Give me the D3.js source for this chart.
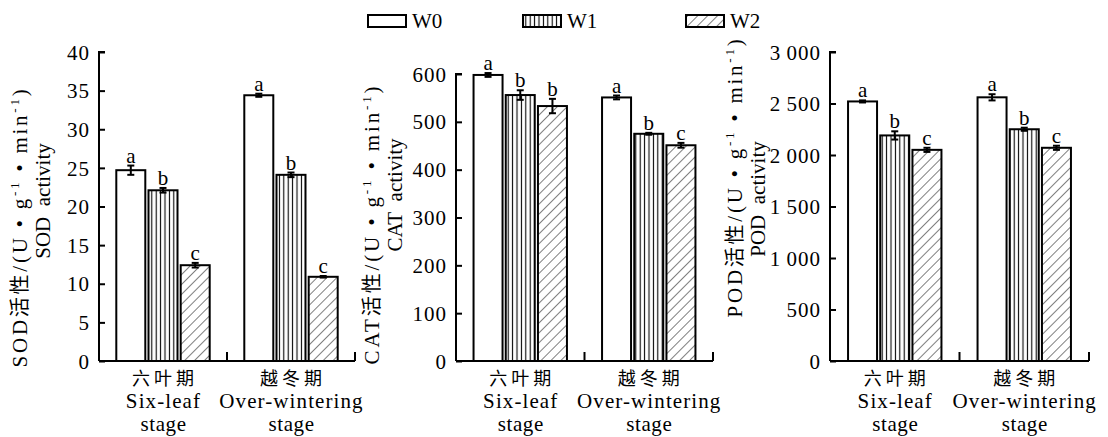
<!DOCTYPE html>
<html>
<head>
<meta charset="utf-8">
<script src="https://cdn.jsdelivr.net/npm/d3@7"></script>
<style>
  html, body { margin: 0; padding: 0; background: #fff; }
  svg { display: block; }
  svg text { font-family: "Liberation Serif", "DejaVu Serif", serif; fill: #000; }
</style>
</head>
<body>
<svg id="chart" width="1108" height="437"></svg>
<script>
// ---------- data ----------
const catCN = ["六叶期", "越冬期"];
const catEN1 = ["Six-leaf", "Over-wintering"];
const catEN2 = ["stage", "stage"];
const series = ["W0", "W1", "W2"];

const sodValues = [[24.7, 22.1, 12.4], [34.4, 24.1, 10.9]];
const sodErrors = [[0.6, 0.3, 0.3], [0.2, 0.3, 0.1]];
const sodLetters = [["a", "b", "c"], ["a", "b", "c"]];
const sodTicks = [0, 5, 10, 15, 20, 25, 30, 35, 40];

const catValues = [[598, 556, 533], [551, 475, 451]];
const catErrors = [[4, 10, 15], [4, 2, 5]];
const catLetters = [["a", "b", "b"], ["a", "b", "c"]];
const catTicks = [0, 100, 200, 300, 400, 500, 600];

const podValues = [[2520, 2190, 2050], [2560, 2250, 2070]];
const podErrors = [[10, 40, 20], [30, 15, 20]];
const podLetters = [["a", "b", "c"], ["a", "b", "c"]];
const podTicks = [0, 500, 1000, 1500, 2000, 2500, 3000];

// ---------- drawing ----------
const SERIF = "'Liberation Serif', 'DejaVu Serif', serif";
const CJK = "'Noto Sans CJK SC', sans-serif";
const svg = d3.select("#chart");
const defs = svg.append("defs");

// patterns
const pV = defs.append("pattern").attr("id", "pv").attr("patternUnits", "userSpaceOnUse")
  .attr("width", 4.4).attr("height", 10);
pV.append("rect").attr("width", 4.4).attr("height", 10).attr("fill", "#fff");
pV.append("line").attr("x1", 2.2).attr("x2", 2.2).attr("y1", 0).attr("y2", 10)
  .attr("stroke", "#000").attr("stroke-width", 1.1);

const pD = defs.append("pattern").attr("id", "pd").attr("patternUnits", "userSpaceOnUse")
  .attr("width", 7).attr("height", 7).attr("patternTransform", "rotate(45)");
pD.append("rect").attr("width", 7).attr("height", 7).attr("fill", "#fff");
pD.append("line").attr("x1", 0).attr("x2", 0).attr("y1", 0).attr("y2", 7)
  .attr("stroke", "#000").attr("stroke-width", 1);

const fills = d3.scaleOrdinal().domain(series).range(["#fff", "url(#pv)", "url(#pd)"]);

const y0 = 361;
const fmtSpace = d => d >= 1000 ? d3.format(",")(d).replace(",", "\u2009") : String(d);

const panels = [
  { vals: sodValues, errs: sodErrors, letters: sodLetters, ticks: sodTicks, max: 40,
    left: 99, right: 355, top: 52, name: "SOD", t1x: 20, t1y: 227, t2x: 43, t2y: 201, fmt: String },
  { vals: catValues, errs: catErrors, letters: catLetters, ticks: catTicks, max: 600,
    left: 456, right: 713, top: 74, name: "CAT", t1x: 372, t1y: 224, t2x: 395, t2y: 195, fmt: String },
  { vals: podValues, errs: podErrors, letters: podLetters, ticks: podTicks, max: 3000,
    left: 830, right: 1089, top: 52, name: "POD", t1x: 735, t1y: 177, t2x: 758, t2y: 199, fmt: fmtSpace }
];

const barW = 29, gap = 3.2;

panels.forEach(p => {
  const g = svg.append("g");
  const y = d3.scaleLinear().domain([0, p.max]).range([y0, p.top]);
  const x = d3.scaleBand().domain(catCN).range([p.left, p.right]).padding(0);
  const xs = d3.scaleBand().domain(series)
    .range([x.bandwidth() / 2 - (3 * barW + 2 * gap) / 2, x.bandwidth() / 2 + (3 * barW + 2 * gap) / 2])
    .paddingInner(gap / (barW + gap)).paddingOuter(0);

  // bars
  catCN.forEach((c, ci) => {
    series.forEach((s, si) => {
      const v = p.vals[ci][si], e = p.errs[ci][si];
      const bx = x(c) + xs(s);
      g.append("rect")
        .attr("x", bx).attr("y", y(v))
        .attr("width", xs.bandwidth()).attr("height", y0 - y(v))
        .attr("fill", fills(s)).attr("stroke", "#000").attr("stroke-width", 2);
      const cx = bx + xs.bandwidth() / 2;
      const eg = g.append("g").attr("stroke", "#000").attr("stroke-width", 2);
      eg.append("line").attr("x1", cx).attr("x2", cx).attr("y1", y(v - e)).attr("y2", y(v + e));
      eg.append("line").attr("x1", cx - 3.5).attr("x2", cx + 3.5).attr("y1", y(v + e)).attr("y2", y(v + e));
      eg.append("line").attr("x1", cx - 3.5).attr("x2", cx + 3.5).attr("y1", y(v - e)).attr("y2", y(v - e));
      g.append("text").attr("x", cx).attr("y", y(v + e) - 3).style("font-family", SERIF)
        .attr("text-anchor", "middle").attr("font-size", 21).text(p.letters[ci][si]);
    });
  });

  // y axis (ticks inward)
  const ya = d3.axisRight(y).tickValues(p.ticks).tickSize(6).tickFormat(p.fmt);
  const yg = g.append("g").attr("transform", `translate(${p.left},0)`).call(ya)
    .attr("font-family", null).attr("font-size", null);
  yg.select(".domain").attr("d", `M6,${p.top}H0V${y0}`).attr("stroke-width", 2);
  yg.selectAll(".tick line").attr("stroke-width", 2);
  yg.selectAll(".tick text").attr("x", -9).attr("text-anchor", "end")
    .attr("font-size", 21).style("font-family", SERIF).attr("dy", "0.34em").attr("letter-spacing", 1);

  // x axis: line with inward ticks at band boundaries
  const xa = d3.axisTop(x).tickSize(0).tickFormat("");
  const xg = g.append("g").attr("transform", `translate(0,${y0})`).call(xa);
  xg.select(".domain").attr("d", `M${p.left},0H${p.right}`).attr("stroke-width", 2);
  xg.selectAll(".tick").remove();
  [x(catCN[1]), p.right].forEach(t => {
    xg.append("line").attr("x1", t).attr("x2", t).attr("y1", 0).attr("y2", -9)
      .attr("stroke", "#000").attr("stroke-width", 2);
  });

  // category labels
  catCN.forEach((c, ci) => {
    const cx = x(c) + x.bandwidth() / 2;
    g.append("text").attr("x", cx + 2).attr("y", 385).style("font-family", CJK)
      .attr("text-anchor", "middle").attr("font-size", 18).attr("letter-spacing", 4).text(c);
    g.append("text").attr("x", cx + 0.5).attr("y", 408).attr("text-anchor", "middle").style("font-family", SERIF)
      .attr("font-size", 21).attr("letter-spacing", 1.1).text(catEN1[ci]);
    g.append("text").attr("x", cx + 0.5).attr("y", 431).attr("text-anchor", "middle").style("font-family", SERIF)
      .attr("font-size", 21).attr("letter-spacing", 0.6).text(catEN2[ci]);
  });

  // y titles
  const t1 = g.append("text").attr("transform", `translate(${p.t1x},${p.t1y}) rotate(-90)`)
    .attr("text-anchor", "middle").attr("dy", "0.35em").attr("font-size", 21).style("font-family", SERIF);
  t1.append("tspan").text(p.name);
  t1.append("tspan").style("font-family", CJK).attr("font-size", 20).text("活性");
  t1.append("tspan").text("/(U \u2022 g");
  t1.append("tspan").attr("font-size", 13).attr("dy", -8).text("-1");
  t1.append("tspan").attr("dy", 8).text(" \u2022 min");
  t1.append("tspan").attr("font-size", 13).attr("dy", -8).text("-1");
  t1.append("tspan").attr("dy", 8).text(")");
  // spread the first title line to the reference length
  const len = t1.node().getComputedTextLength();
  const nChars = t1.text().length;
  t1.attr("letter-spacing", Math.max(0, (281 - len) / nChars));

  g.append("text").attr("transform", `translate(${p.t2x},${p.t2y}) rotate(-90)`)
    .attr("text-anchor", "middle").attr("dy", "0.35em").attr("font-size", 21).style("font-family", SERIF)
    .text(p.name + "\u00a0 activity");
});

// legend
const legX = d3.scaleOrdinal().domain(series).range([368, 523, 686]);
const lg = svg.append("g");
series.forEach(s => {
  lg.append("rect").attr("x", legX(s)).attr("y", 15).attr("width", 38).attr("height", 12)
    .attr("fill", fills(s)).attr("stroke", "#000").attr("stroke-width", 2);
  lg.append("text").attr("x", legX(s) + 44).attr("y", 28).attr("font-size", 21)
    .style("font-family", SERIF).text(s);
});
</script>
</body>
</html>
